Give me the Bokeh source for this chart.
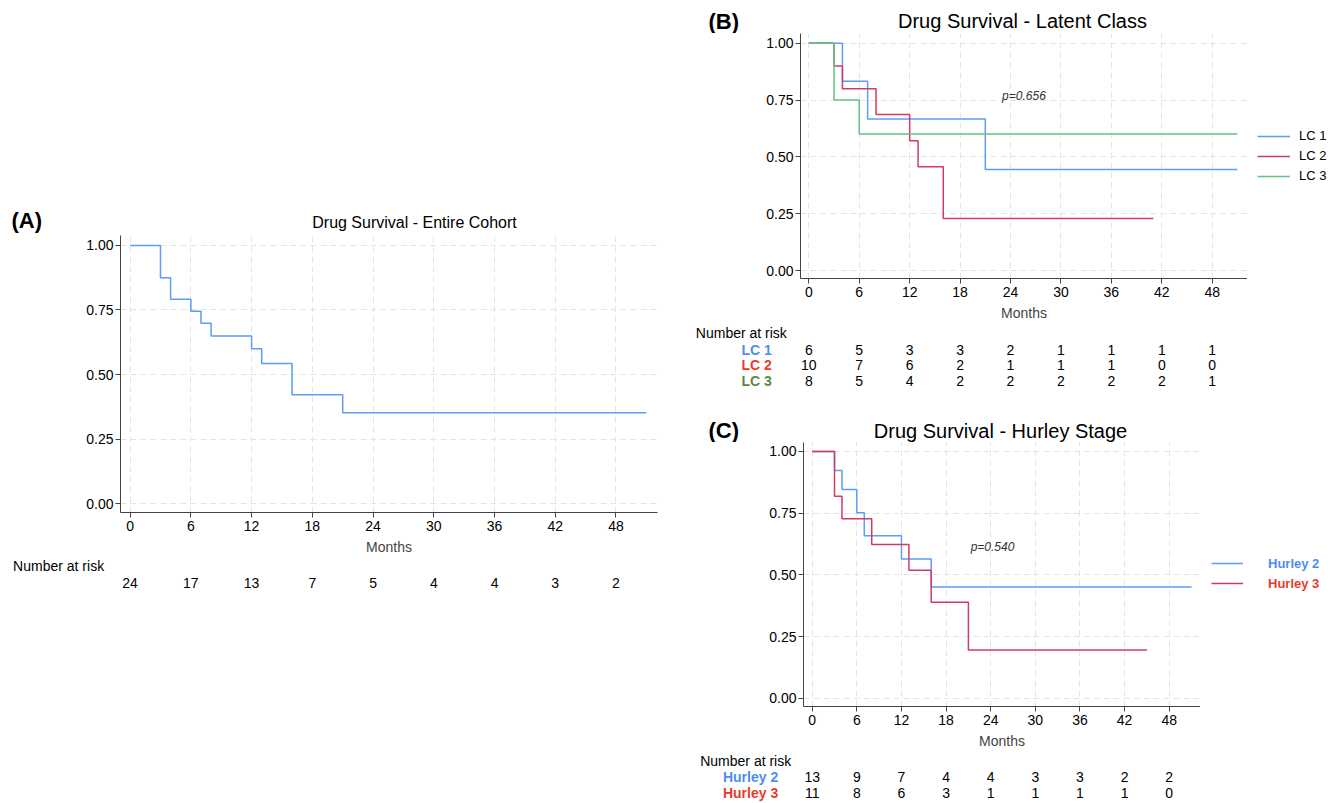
from bokeh.plotting import figure
from bokeh.models import Range1d, FixedTicker, Label, Legend, LegendItem, NumeralTickFormatter
from bokeh.layouts import row, column
from bokeh.core.properties import value
from bokeh.embed import file_html
from bokeh.resources import INLINE

FONT = "Liberation Sans"

MONTH_TICKS = [0, 6, 12, 18, 24, 30, 36, 42, 48]
SURV_TICKS = [0.0, 0.25, 0.5, 0.75, 1.0]

# Panel A - entire cohort
a_time = [0, 3, 4, 6, 7, 8, 12, 13, 16, 21, 51]
a_surv = [1.0, 0.875, 0.792, 0.745, 0.699, 0.649, 0.600, 0.543, 0.422, 0.352, 0.352]
a_risk = [24, 17, 13, 7, 5, 4, 4, 3, 2]

# Panel B - latent class
lc1_time = [0, 4, 7, 21, 51]
lc1_surv = [1.0, 0.833, 0.667, 0.444, 0.444]
lc2_time = [0, 3, 4, 8, 12, 13, 16, 41]
lc2_surv = [1.0, 0.9, 0.8, 0.686, 0.571, 0.457, 0.229, 0.229]
lc3_time = [0, 3, 6, 51]
lc3_surv = [1.0, 0.75, 0.6, 0.6]
lc1_risk = [6, 5, 3, 3, 2, 1, 1, 1, 1]
lc2_risk = [10, 7, 6, 2, 1, 1, 1, 0, 0]
lc3_risk = [8, 5, 4, 2, 2, 2, 2, 2, 1]

# Panel C - Hurley stage
h2_time = [0, 3, 4, 6, 7, 12, 16, 51]
h2_surv = [1.0, 0.923, 0.846, 0.752, 0.658, 0.564, 0.451, 0.451]
h3_time = [0, 3, 4, 8, 13, 16, 21, 45]
h3_surv = [1.0, 0.818, 0.727, 0.623, 0.519, 0.389, 0.195, 0.195]
h2_risk = [13, 9, 7, 4, 4, 3, 3, 2, 2]
h3_risk = [11, 8, 6, 3, 1, 1, 1, 1, 0]

BLUE = "#5f9cf4"
RED = "#d23a66"
GREEN = "#62c384"
LBL_BLUE = "#4f8cf2"
LBL_RED = "#ea3b2a"
LBL_GREEN = "#5a8a3a"
FS = "14px"
MB = 44


def main_panel(ml, fw, mr, fh, xr, yr):
    p = figure(width=ml + fw + mr, height=fh + MB, x_range=Range1d(*xr), y_range=Range1d(*yr),
               output_backend="svg", toolbar_location=None,
               min_border_left=ml, min_border_right=mr, min_border_top=0, min_border_bottom=MB)
    p.outline_line_color = None
    p.background_fill_color = "white"
    p.border_fill_color = "white"
    p.xaxis.ticker = FixedTicker(ticks=MONTH_TICKS, minor_ticks=[])
    p.yaxis.ticker = FixedTicker(ticks=SURV_TICKS, minor_ticks=[])
    p.yaxis.formatter = NumeralTickFormatter(format="0.00")
    p.xaxis.axis_label = "Months"
    for ax in (p.xaxis, p.yaxis):
        ax.axis_line_color = "#444444"
        ax.major_tick_line_color = "#444444"
        ax.major_tick_out = 5
        ax.major_tick_in = 0
        ax.minor_tick_line_color = None
        ax.major_label_text_font = FONT
        ax.major_label_text_font_size = FS
        ax.major_label_text_color = "black"
    p.xaxis.major_label_standoff = 3
    p.yaxis.major_label_standoff = 2
    p.xaxis.axis_label_text_font = FONT
    p.xaxis.axis_label_text_font_size = FS
    p.xaxis.axis_label_text_font_style = "normal"
    p.xaxis.axis_label_standoff = 5
    for g in (p.xgrid, p.ygrid):
        g.grid_line_color = "#e4e4e4"
        g.grid_line_dash = "6 4"
        g.grid_line_width = 1
    return p


def blank_fig(width, height, xr=None, yr=None, mb=0):
    p = figure(width=width, height=height,
               x_range=Range1d(*(xr if xr else (0, width))),
               y_range=Range1d(*(yr if yr else (height, 0))),
               output_backend="svg", toolbar_location=None, min_border=0,
               min_border_bottom=mb, x_axis_location=None, y_axis_location=None)
    p.grid.visible = False
    p.outline_line_color = None
    p.background_fill_color = "white"
    p.border_fill_color = "white"
    return p


def header(width, height, tag, tag_x, tag_y, title, title_x, title_y, title_size):
    p = blank_fig(width, height)
    p.text(x=[tag_x], y=[tag_y], text=[tag], text_font=value(FONT), text_font_size=value("22px"),
           text_font_style="bold", text_align="left", text_baseline="middle", text_color="black")
    p.text(x=[title_x], y=[title_y], text=[title], text_font=value(FONT),
           text_font_size=value(title_size), text_align="center", text_baseline="middle",
           text_color="black")
    return p


def risk_table(main, ml, fw, width, height, head_y, head_off, rows):
    x0, x1 = main.x_range.start, main.x_range.end
    ppm = fw / (x1 - x0)
    start = x0 - ml / ppm
    p = blank_fig(width, height, xr=(start, start + width / ppm))
    p.text(x=[0], y=[head_y], text=["Number at risk"], x_offset=head_off, text_font=value(FONT),
           text_font_size=value(FS), text_align="left", text_baseline="middle", text_color="black")
    for y, vals, lab, col, loff in rows:
        if lab:
            p.text(x=[0], y=[y], text=[lab], x_offset=loff, text_font=value(FONT),
                   text_font_size=value(FS), text_font_style="bold", text_align="right",
                   text_baseline="middle", text_color=col)
        p.text(x=MONTH_TICKS, y=[y] * len(vals), text=[str(v) for v in vals],
               text_font=value(FONT), text_font_size=value(FS), text_align="center",
               text_baseline="middle", text_color="black")
    return p


def legend_fig(width, fh, entries, x, y_top, standoff, bold, glyph_w):
    # The series are drawn here outside the visible ranges so the legend has real glyphs.
    p = blank_fig(width, fh + MB, xr=(-20, -10), yr=(-20, -10), mb=MB)
    for i, (lab, times, surv, lcol, tcol) in enumerate(entries):
        r = p.step(times, surv, mode="after", line_color=lcol, line_width=1.5)
        lg = Legend(items=[LegendItem(label=lab, renderers=[r])],
                    location=(x, fh - y_top - 20 * (i + 1)),
                    glyph_width=glyph_w, glyph_height=20, label_height=20,
                    spacing=0, padding=0, margin=0, label_standoff=standoff,
                    border_line_color=None, background_fill_alpha=0,
                    label_text_font=FONT, label_text_font_size="13px",
                    label_text_font_style="bold" if bold else "normal",
                    label_text_color=tcol)
        p.add_layout(lg, "center")
    return p


def pval(p, text, x, y):
    p.add_layout(Label(x=x, y=y, text=text, text_font=FONT, text_font_size="12px",
                       text_font_style="italic", text_color="#333333", text_baseline="middle"))


# ---------------- Panel A ----------------
A_ML, A_FW, A_MR = 120, 537, 23
head_a = header(680, 235, "(A)", 11, 220, "Drug Survival - Entire Cohort", 414, 222, "16px")
pa = main_panel(A_ML, A_FW, A_MR, 278, (-0.95, 52.1), (-0.0347, 1.0386))
pa.step(a_time, a_surv, mode="after", line_color=BLUE, line_width=1.5)
tab_a = risk_table(pa, A_ML, A_FW, 680, 46, 8, -117, [(25, a_risk, None, None, 0)])
left_col = column(head_a, row(pa, spacing=0), tab_a, spacing=0)

# ---------------- Panel B ----------------
B_ML, B_FW, B_FH = 120, 447, 246
head_b = header(664, 33, "(B)", 28, 21, "Drug Survival - Latent Class", 342, 20, "20px")
pb = main_panel(B_ML, B_FW, 0, B_FH, (-0.99, 52.2), (-0.035, 1.0425))
pb.step(lc1_time, lc1_surv, mode="after", line_color=BLUE, line_width=1.5)
pb.step(lc2_time, lc2_surv, mode="after", line_color=RED, line_width=1.5)
pb.step(lc3_time, lc3_surv, mode="after", line_color=GREEN, line_width=1.5)
pval(pb, "p=0.656", 23.0, 0.769)
leg_b = legend_fig(97, B_FH, [("LC 1", lc1_time, lc1_surv, BLUE, "black"),
                              ("LC 2", lc2_time, lc2_surv, RED, "black"),
                              ("LC 3", lc3_time, lc3_surv, GREEN, "black")],
                   10, 93.7, 9, False, 33)
tab_b = risk_table(pb, B_ML, B_FW, 664, 77, 9.7, -113,
                   [(26.3, lc1_risk, "LC 1", LBL_BLUE, -37),
                    (41.3, lc2_risk, "LC 2", LBL_RED, -37),
                    (57.3, lc3_risk, "LC 3", LBL_GREEN, -37)])

# ---------------- Panel C ----------------
C_ML, C_FW, C_FH = 123, 397, 265
head_c = header(664, 42, "(C)", 28, 30, "Drug Survival - Hurley Stage", 320, 30, "20px")
pc = main_panel(C_ML, C_FW, 0, C_FH, (-1.17, 52.2), (-0.0335, 1.0363))
pc.step(h2_time, h2_surv, mode="after", line_color=BLUE, line_width=1.5)
pc.step(h3_time, h3_surv, mode="after", line_color=RED, line_width=1.5)
pval(pc, "p=0.540", 21.3, 0.614)
leg_c = legend_fig(144, C_FH, [("Hurley 2", h2_time, h2_surv, BLUE, LBL_BLUE),
                               ("Hurley 3", h3_time, h3_surv, RED, LBL_RED)],
                   11, 112.3, 25, True, 32)
tab_c = risk_table(pc, C_ML, C_FW, 664, 52, 9.7, -112,
                   [(25.7, h2_risk, "Hurley 2", LBL_BLUE, -34),
                    (41.7, h3_risk, "Hurley 3", LBL_RED, -34)])

right_col = column(head_b, row(pb, leg_b, spacing=0), tab_b,
                   head_c, row(pc, leg_c, spacing=0), tab_c, spacing=0)

layout = row(left_col, right_col, spacing=0)
open("out.html", "w").write(file_html(layout, INLINE))
